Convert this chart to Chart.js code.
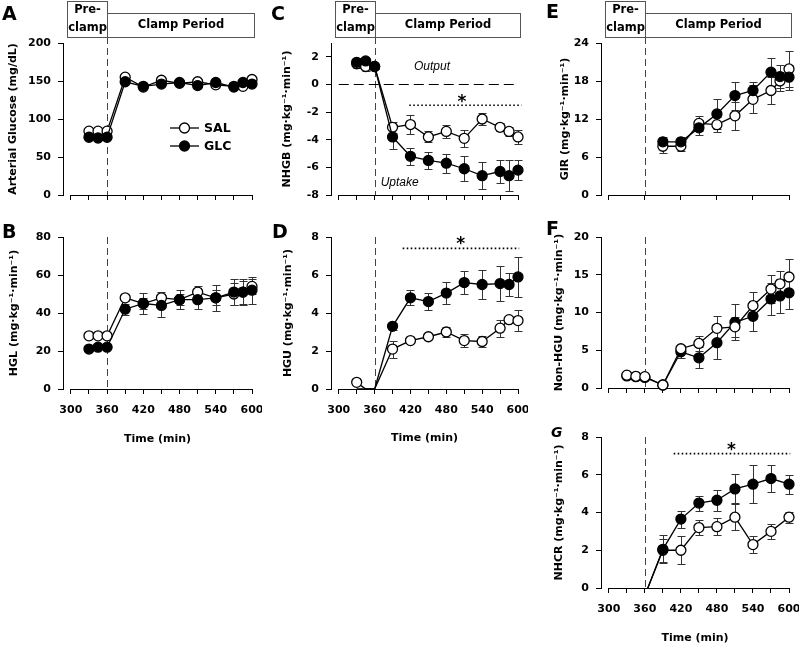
<!DOCTYPE html>
<html>
<head>
<meta charset="utf-8">
<script src="https://cdn.jsdelivr.net/npm/chart.js@4.4.1/dist/chart.umd.min.js"></script>
<style>
  body { margin: 0; background: #fff; width: 799px; height: 647px; position: relative; overflow: hidden; }
  canvas { position: absolute; }
</style>
</head>
<body>
<canvas id="pA"></canvas>
<canvas id="pB"></canvas>
<canvas id="pC"></canvas>
<canvas id="pD"></canvas>
<canvas id="pE"></canvas>
<canvas id="pF"></canvas>
<canvas id="pG"></canvas>
<script>
// ---- time points (min) ----
const timeFull = [330, 345, 360, 390, 420, 450, 480, 510, 540, 570, 585, 600];
const timeE = [390, 420, 450, 480, 510, 540, 570, 585, 600];
const timeG = [360, 390, 420, 450, 480, 510, 540, 570, 600];
const xTicks30 = [300, 330, 360, 390, 420, 450, 480, 510, 540, 570, 600];
const xTicks60 = [300, 360, 420, 480, 540, 600];

// ---- A: arterial glucose (mg/dL) ----
const glucoseSal = [84, 84, 84, 155, 142, 151, 147, 149, 145, 143, 143, 152];
const glucoseGlc = [76, 75, 76, 149, 143, 146, 148, 144, 148, 142, 148, 146];
const glucoseSalErr = [2, 2, 2, 2, 2, 2, 2, 2, 2, 2, 2, 2];
const glucoseGlcErr = [2, 2, 2, 2, 2, 2, 2, 2, 2, 2, 2, 2];
const glucoseTicks = [0, 50, 100, 150, 200];

// ---- B: HGL ----
const hglSal = [28, 28, 28, 48, 45, 48, 47, 51, 48, 50, 51, 54];
const hglGlc = [21, 22, 22, 42, 45, 44, 47, 47, 48, 51, 51, 52];
const hglSalErr = [1, 1, 1, 1.5, 3, 3, 3, 3, 4, 6, 6, 4];
const hglGlcErr = [1, 1, 1, 3, 5.5, 6, 5, 5, 7, 7, 7, 7];
const hglTicks = [0, 20, 40, 60, 80];

// ---- C: NHGB ----
const nhgbSal = [1.5, 1.3, 1.3, -3.1, -2.9, -3.8, -3.4, -3.9, -2.5, -3.1, -3.4, -3.8];
const nhgbGlc = [1.6, 1.7, 1.3, -3.8, -5.2, -5.5, -5.7, -6.1, -6.6, -6.3, -6.6, -6.2];
const nhgbSalErr = [0.3, 0.3, 0.2, 0.4, 0.7, 0.4, 0.5, 0.6, 0.4, 0.3, 0.3, 0.5];
const nhgbGlcErr = [0.3, 0.2, 0.2, 0.9, 0.6, 0.6, 0.7, 0.9, 1.0, 0.8, 1.1, 0.7];
const nhgbTicks = [-8, -6, -4, -2, 0, 2];

// ---- D: HGU ----
const hguSal = [0.35, 0, 0, 2.1, 2.55, 2.75, 3.0, 2.55, 2.5, 3.2, 3.65, 3.6];
const hguGlc = [0, 0, 0, 3.3, 4.8, 4.6, 5.05, 5.6, 5.5, 5.55, 5.5, 5.9];
const hguSalErr = [0, 0, 0, 0.45, 0, 0, 0.25, 0.35, 0.3, 0.45, 0, 0.55];
const hguGlcErr = [0, 0, 0, 0.2, 0.4, 0.45, 0.6, 0.6, 0.75, 0.9, 0.6, 1.05];
const hguTicks = [0, 2, 4, 6, 8];

// ---- E: GIR ----
const girSal = [7.7, 7.7, 11.3, 11.1, 12.5, 15.1, 16.5, 18.0, 19.9];
const girGlc = [8.4, 8.4, 10.6, 12.8, 15.7, 16.5, 19.4, 18.7, 18.6];
const girSalErr = [1.0, 0.8, 1.2, 1.2, 2.2, 2.2, 2.1, 1.5, 2.8];
const girGlcErr = [0.7, 0.8, 1.2, 2.3, 2.2, 1.4, 2.2, 1.8, 2.0];
const girTicks = [0, 6, 12, 18, 24];

// ---- F: non-HGU ----
const nonHguSal = [1.7, 1.55, 1.5, 0.4, 5.2, 5.9, 7.9, 8.1, 10.9, 13.1, 13.8, 14.7];
const nonHguGlc = [1.6, 1.5, 1.4, 0.4, 4.8, 4.0, 6.0, 8.7, 9.5, 11.8, 12.2, 12.6];
const nonHguSalErr = [0.2, 0.2, 0.2, 0.2, 0.5, 1.0, 1.7, 1.3, 1.8, 1.9, 1.7, 2.4];
const nonHguGlcErr = [0.2, 0.2, 0.2, 0.2, 0.8, 1.4, 2.2, 2.4, 2.0, 2.1, 2.2, 2.1];
const nonHguTicks = [0, 5, 10, 15, 20];

// ---- G: NHCR ----
const nhcrSal = [-0.4, 2.0, 2.0, 3.2, 3.25, 3.75, 2.3, 3.0, 3.75];
const nhcrGlc = [-0.4, 2.05, 3.65, 4.5, 4.65, 5.25, 5.5, 5.8, 5.5];
const nhcrSalErr = [0, 0.6, 0.75, 0.4, 0.45, 0.7, 0.45, 0.4, 0.3];
const nhcrGlcErr = [0, 0.75, 0.45, 0.4, 0.55, 0.77, 1.0, 0.73, 0.5];
const nhcrTicks = [0, 2, 4, 6, 8];

const FONT = "'DejaVu Sans', 'Liberation Sans', sans-serif";
const UNITS = ' (mg\u00B7kg\u207B\u00B9\u00B7min\u207B\u00B9)';
Chart.defaults.font.family = FONT;
Chart.defaults.color = '#000';

function series(label, xs, ys, errs, filled, order, hideIdx) {
    return {
        label: label,
        data: xs.map((x, i) => ({ x: x, y: ys[i] })),
        errors: errs,
        borderColor: '#000',
        borderWidth: 1.3,
        backgroundColor: filled ? '#000' : '#fff',
        pointBackgroundColor: filled ? '#000' : '#fff',
        pointBorderColor: '#000',
        pointBorderWidth: 1.3,
        pointRadius: xs.map((x, i) => (hideIdx && hideIdx.includes(i)) ? 0 : 5),
        tension: 0,
        clip: false,
        order: order
    };
}

// error bars under the markers
const errorBars = {
    id: 'errorBars',
    beforeDatasetsDraw(chart) {
        const { ctx, scales: { y } } = chart;
        ctx.save();
        ctx.strokeStyle = '#333';
        ctx.lineWidth = 1;
        chart.data.datasets.forEach((ds, i) => {
            if (!ds.errors) return;
            chart.getDatasetMeta(i).data.forEach((pt, j) => {
                const e = ds.errors[j];
                if (!e) return;
                const v = ds.data[j].y;
                const x = Math.round(pt.x) + 0.5;
                const t = Math.round(y.getPixelForValue(v + e)) + 0.5;
                const b = Math.round(y.getPixelForValue(v - e)) + 0.5;
                ctx.beginPath();
                ctx.moveTo(x, t); ctx.lineTo(x, b);
                ctx.moveTo(x - 4, t); ctx.lineTo(x + 4, t);
                ctx.moveTo(x - 4, b); ctx.lineTo(x + 4, b);
                ctx.stroke();
            });
        });
        ctx.restore();
    }
};

function makeDeco(p) {
    const [cl, ct] = p.canvas;
    return {
        id: 'deco',
        beforeDatasetsDraw(chart) {
            const { ctx, chartArea: a, scales: { x, y } } = chart;
            ctx.save();
            // x axis line, 300..600 only
            ctx.strokeStyle = '#000';
            ctx.lineWidth = 1;
            const by = Math.round(a.bottom) + 0.5;
            ctx.beginPath();
            ctx.moveTo(x.getPixelForValue(300), by);
            ctx.lineTo(x.getPixelForValue(600) + 0.5, by);
            ctx.stroke();
            // start of clamp
            const vx = Math.round(x.getPixelForValue(360)) + 0.5;
            ctx.strokeStyle = '#444';
            ctx.setLineDash([7, 4]);
            ctx.beginPath();
            ctx.moveTo(vx, a.top - (p.header ? 6 : 0));
            ctx.lineTo(vx, a.bottom);
            ctx.stroke();
            if (p.zeroLine) {
                const zy = Math.round(y.getPixelForValue(0)) + 0.5;
                ctx.strokeStyle = '#000';
                ctx.lineWidth = 1.2;
                ctx.setLineDash([10, 5]);
                ctx.beginPath();
                ctx.moveTo(x.getPixelForValue(300), zy);
                ctx.lineTo(x.getPixelForValue(600), zy);
                ctx.stroke();
            }
            if (p.sig) {
                const sy = y.getPixelForValue(p.sig.y);
                ctx.strokeStyle = '#000';
                ctx.lineWidth = 1.6;
                ctx.setLineDash([1.6, 2.4]);
                ctx.beginPath();
                ctx.moveTo(x.getPixelForValue(p.sig.from), sy);
                ctx.lineTo(x.getPixelForValue(p.sig.to), sy);
                ctx.stroke();
                ctx.setLineDash([]);
                ctx.fillStyle = '#000';
                ctx.font = 'bold 17px ' + FONT;
                ctx.textAlign = 'center';
                ctx.textBaseline = 'alphabetic';
                ctx.fillText('*', x.getPixelForValue(p.sig.starX), y.getPixelForValue(p.sig.starY) + 10);
            }
            ctx.restore();
        },
        afterDraw(chart) {
            const { ctx, chartArea: a, scales: { x, y } } = chart;
            ctx.save();
            ctx.fillStyle = '#000';
            // panel letter
            ctx.font = p.letter.font;
            ctx.textAlign = 'left';
            ctx.textBaseline = 'alphabetic';
            ctx.fillText(p.letter.text, p.letter.x - cl, p.letter.y - ct);
            // period boxes
            if (p.header) {
                const x0 = Math.round(x.getPixelForValue(294)) + 0.5;
                const x1 = Math.round(x.getPixelForValue(360)) + 0.5;
                const x2 = Math.round(x.getPixelForValue(604)) + 0.5;
                const bottom = Math.round(a.top - 6) + 0.5;
                const preTop = Math.round(a.top - 42) + 0.5;
                const clampTop = Math.round(a.top - 30) + 0.5;
                ctx.strokeStyle = '#555';
                ctx.lineWidth = 1;
                ctx.strokeRect(x1, clampTop, x2 - x1, bottom - clampTop);
                ctx.strokeRect(x0, preTop, x1 - x0, bottom - preTop);
                ctx.font = 'bold 11.5px ' + FONT;
                ctx.textAlign = 'center';
                ctx.textBaseline = 'middle';
                ctx.fillText('Pre-', (x0 + x1) / 2, a.top - 33);
                ctx.fillText('clamp', (x0 + x1) / 2, a.top - 14.5);
                ctx.fillText('Clamp Period', (x1 + x2) / 2, a.top - 17.5);
            }
            (p.notes || []).forEach(n => {
                ctx.font = n.font;
                ctx.textAlign = 'center';
                ctx.textBaseline = 'middle';
                ctx.fillText(n.text, x.getPixelForValue(n.x), y.getPixelForValue(n.y));
            });
            if (p.legend) {
                const lg = p.legend;
                chart.data.datasets.slice().sort((d1, d2) => d1.label === 'SAL' ? -1 : 1).forEach((ds, i) => {
                    const ly = lg.y + i * lg.gap - ct;
                    ctx.strokeStyle = '#000';
                    ctx.lineWidth = 1.3;
                    ctx.beginPath();
                    ctx.moveTo(lg.x0 - cl, ly);
                    ctx.lineTo(lg.x1 - cl, ly);
                    ctx.stroke();
                    ctx.beginPath();
                    ctx.arc((lg.x0 + lg.x1) / 2 - cl, ly, 5, 0, Math.PI * 2);
                    ctx.fillStyle = ds.pointBackgroundColor;
                    ctx.fill();
                    ctx.stroke();
                    ctx.fillStyle = '#000';
                    ctx.font = 'bold 12.5px ' + FONT;
                    ctx.textAlign = 'left';
                    ctx.textBaseline = 'middle';
                    ctx.fillText(ds.label, lg.tx - cl, ly + 0.5);
                });
            }
            ctx.restore();
        }
    };
}

function makePanel(p) {
    const cv = document.getElementById(p.id);
    const [cl, ct, cw, ch] = p.canvas;
    const [al, at, ar, ab] = p.area;
    cv.width = cw;
    cv.height = ch;
    cv.style.left = cl + 'px';
    cv.style.top = ct + 'px';
    const yW = al - cl;
    const xH = ct + ch - ab;
    const tickFont = { family: FONT, size: 11, weight: 'bold' };

    new Chart(cv, {
        type: 'line',
        data: { datasets: p.datasets },
        options: {
            responsive: false,
            animation: false,
            devicePixelRatio: 1,
            layout: { padding: { left: 0, bottom: 0, top: at - ct, right: cl + cw - ar } },
            plugins: { legend: { display: false }, tooltip: { enabled: false } },
            scales: {
                x: {
                    type: 'linear',
                    min: 287,
                    max: 600,
                    afterBuildTicks: s => { s.ticks = p.xTicks.map(v => ({ value: v })); },
                    afterFit: s => { s.height = xH; s.paddingLeft = 0; s.paddingRight = 0; },
                    ticks: {
                        display: !!p.timeTitle,
                        autoSkip: false,
                        maxRotation: 0,
                        minRotation: 0,
                        padding: 10,
                        font: tickFont,
                        color: '#000',
                        callback: v => (v % 60 === 0 ? String(v) : '')
                    },
                    grid: { drawOnChartArea: false, drawTicks: true, tickLength: 5, color: '#000', lineWidth: 1 },
                    border: { display: false },
                    title: {
                        display: !!p.timeTitle,
                        text: 'Time (min)',
                        font: tickFont,
                        color: '#000',
                        padding: { top: 0, bottom: p.timeTitle ? (ct + ch - p.timeTitle) - 6.6 : 0 }
                    }
                },
                y: {
                    type: 'linear',
                    min: p.yMin,
                    max: p.yMax,
                    afterBuildTicks: s => { s.ticks = p.yTicks.map(v => ({ value: v })); },
                    afterFit: s => { s.width = yW; s.paddingTop = 0; s.paddingBottom = 0; },
                    ticks: { padding: 7, font: tickFont, color: '#000' },
                    grid: { drawOnChartArea: false, drawTicks: true, tickLength: 5, color: '#000', lineWidth: 1 },
                    border: { display: true, color: '#000', width: 1 },
                    title: {
                        display: true,
                        text: p.yTitle,
                        font: tickFont,
                        color: '#000',
                        padding: { top: p.yTitleX - cl - 6.6, bottom: 0 }
                    }
                }
            }
        },
        plugins: [errorBars, makeDeco(p)]
    });
}

const letterFont = 'bold 19px ' + FONT;

makePanel({
    id: 'pA', canvas: [0, 0, 262, 205], area: [63, 43, 252, 195],
    yMin: 0, yMax: 200, yTicks: glucoseTicks, xTicks: xTicks30,
    yTitle: 'Arterial Glucose (mg/dL)', yTitleX: 13,
    letter: { text: 'A', x: 2, y: 20, font: letterFont },
    header: true,
    legend: { x0: 170, x1: 199, tx: 204, y: 128, gap: 18 },
    datasets: [
        series('GLC', timeFull, glucoseGlc, glucoseGlcErr, true, 0),
        series('SAL', timeFull, glucoseSal, glucoseSalErr, false, 1)
    ]
});

makePanel({
    id: 'pB', canvas: [0, 205, 262, 255], area: [63, 237, 252, 389],
    yMin: 0, yMax: 80, yTicks: hglTicks, xTicks: xTicks30,
    yTitle: 'HGL' + UNITS, yTitleX: 14, timeTitle: 439,
    letter: { text: 'B', x: 2, y: 238, font: letterFont },
    datasets: [
        series('GLC', timeFull, hglGlc, hglGlcErr, true, 0),
        series('SAL', timeFull, hglSal, hglSalErr, false, 1)
    ]
});

makePanel({
    id: 'pC', canvas: [266, 0, 262, 205], area: [331, 43, 518, 195],
    yMin: -8, yMax: 3, yTicks: nhgbTicks, xTicks: xTicks30,
    yTitle: 'NHGB' + UNITS, yTitleX: 287,
    letter: { text: 'C', x: 271, y: 20, font: letterFont },
    header: true, zeroLine: true,
    sig: { from: 418, to: 606, y: -1.5, starX: 506, starY: -0.9 },
    notes: [
        { text: 'Output', x: 456, y: 1.3, font: 'italic 12px "Liberation Sans", sans-serif' },
        { text: 'Uptake', x: 402, y: -7.1, font: 'italic 12px "Liberation Sans", sans-serif' }
    ],
    datasets: [
        series('GLC', timeFull, nhgbGlc, nhgbGlcErr, true, 0),
        series('SAL', timeFull, nhgbSal, nhgbSalErr, false, 1)
    ]
});

makePanel({
    id: 'pD', canvas: [266, 205, 262, 255], area: [331, 237, 518, 389],
    yMin: 0, yMax: 8, yTicks: hguTicks, xTicks: xTicks30,
    yTitle: 'HGU' + UNITS, yTitleX: 288, timeTitle: 438.5,
    letter: { text: 'D', x: 272, y: 238, font: letterFont },
    sig: { from: 407, to: 602, y: 7.4, starX: 504, starY: 7.9 },
    datasets: [
        series('GLC', timeFull, hguGlc, hguGlcErr, true, 0, [0, 1, 2]),
        series('SAL', timeFull, hguSal, hguSalErr, false, 1, [1, 2])
    ]
});

makePanel({
    id: 'pE', canvas: [534, 0, 265, 205], area: [601, 43, 789, 195],
    yMin: 0, yMax: 24, yTicks: girTicks, xTicks: xTicks60,
    yTitle: 'GIR' + UNITS, yTitleX: 565,
    letter: { text: 'E', x: 546, y: 18, font: letterFont },
    header: true,
    datasets: [
        series('GLC', timeE, girGlc, girGlcErr, true, 0),
        series('SAL', timeE, girSal, girSalErr, false, 1)
    ]
});

makePanel({
    id: 'pF', canvas: [534, 205, 265, 200], area: [601, 237, 789, 388],
    yMin: 0, yMax: 20, yTicks: nonHguTicks, xTicks: xTicks30,
    yTitle: 'Non-HGU' + UNITS, yTitleX: 559,
    letter: { text: 'F', x: 546, y: 235, font: letterFont },
    datasets: [
        series('SAL', timeFull, nonHguSal, nonHguSalErr, false, 0),
        series('GLC', timeFull, nonHguGlc, nonHguGlcErr, true, 1)
    ]
});

const gSal = series('SAL', timeG, nhcrSal, nhcrSalErr, false, 1, [0]);
const gGlc = series('GLC', timeG, nhcrGlc, nhcrGlcErr, true, 0, [0]);
gSal.clip = { left: false, top: false, right: false, bottom: 0 };
gGlc.clip = { left: false, top: false, right: false, bottom: 0 };
makePanel({
    id: 'pG', canvas: [534, 405, 265, 242], area: [601, 437, 789, 588],
    yMin: 0, yMax: 8, yTicks: nhcrTicks, xTicks: xTicks30,
    yTitle: 'NHCR' + UNITS, yTitleX: 559, timeTitle: 638,
    letter: { text: 'G', x: 551, y: 437, font: 'italic bold 14px ' + FONT },
    sig: { from: 408, to: 602, y: 7.12, starX: 504, starY: 7.6 },
    datasets: [gGlc, gSal]
});
</script>
</body>
</html>
